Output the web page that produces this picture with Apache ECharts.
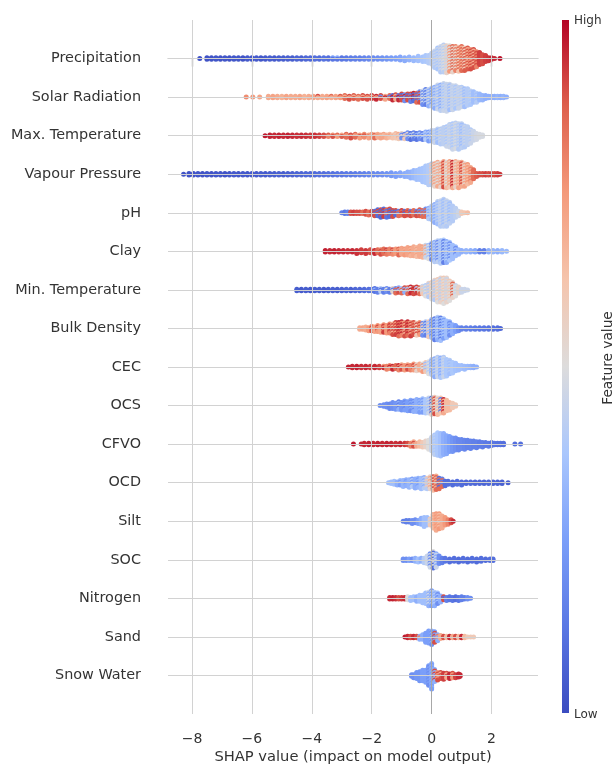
<!DOCTYPE html>
<html><head><meta charset="utf-8">
<script src="https://cdn.jsdelivr.net/npm/echarts@6/dist/echarts.min.js"></script>
<style>html,body{margin:0;padding:0;background:#fff}#c{width:616px;height:765px}</style>
</head><body><div id="c"></div>
<script>
// Feature names, top to bottom
const features = ['Precipitation','Solar Radiation','Max. Temperature','Vapour Pressure','pH','Clay','Min. Temperature','Bulk Density','CEC','OCS','CFVO','OCD','Silt','SOC','Nitrogen','Sand','Snow Water'];
const xTicks = [-8,-6,-4,-2,0,2];
const yTicks = [0,1,2,3,4,5,6,7,8,9,10,11,12,13,14,15,16];
// Each bin: [SHAP value, number of samples, feature value (0 low .. 1 high), optional second feature value mixed in]
const precipitation = [
[-7.74,1,0.02],
[-7.5,2,0.02],[-7.35,2,0.02],[-7.2,2,0.03],[-7.05,2,0.02],[-6.9,2,0.03],[-6.75,2,0.02],[-6.6,2,0.03],[-6.45,2,0.03],[-6.3,2,0.02],[-6.15,2,0.04],[-6.0,2,0.03],[-5.85,2,0.04],[-5.7,2,0.03],[-5.55,2,0.04],[-5.4,2,0.05],[-5.25,2,0.04],[-5.1,2,0.05],[-4.95,2,0.05],[-4.8,2,0.06],[-4.65,2,0.05],[-4.5,2,0.07],[-4.35,2,0.06],[-4.2,2,0.08],[-4.05,2,0.08],
[-3.9,2,0.1],[-3.75,2,0.09],[-3.6,2,0.11],[-3.45,2,0.1],[-3.3,2,0.12,0.25],[-3.15,2,0.3,0.12],[-3.0,2,0.12],[-2.85,2,0.13],[-2.7,2,0.14],[-2.55,2,0.15],[-2.4,2,0.15],[-2.25,2,0.17],[-2.1,2,0.18],[-1.95,2,0.19],[-1.8,2,0.2],[-1.65,2,0.21],[-1.5,2,0.22],[-1.35,2,0.24],[-1.2,2,0.25],[-1.05,3,0.27],[-0.9,3,0.29],[-0.75,3,0.31],[-0.6,3,0.33],[-0.45,4,0.35],[-0.3,4,0.37],
[-0.2,5,0.38],[-0.1,6,0.4],[0,8,0.42],[0.1,12,0.4,0.45],[0.2,15,0.38,0.45],[0.3,18,0.4,0.47],[0.4,19,0.42,0.5],[0.5,19,0.45,0.55],[0.6,18,0.5,0.75],[0.7,18,0.55,0.85],[0.8,17,0.8,0.55],[0.9,17,0.85,0.62],[1.0,17,0.85,0.7],[1.1,16,0.88,0.6],[1.2,15,0.88,0.7],[1.3,14,0.9,0.75],[1.4,13,0.9,0.7],[1.5,11,0.9,0.8],[1.6,9,0.92],[1.7,7,0.9],[1.8,5,0.92],[1.9,3,0.93],[2.0,2,0.95],[2.1,1,0.95],[2.28,1,0.98]
];
const solarRadiation = [
[-6.19,1,0.78],[-5.97,1,0.75],[-5.74,1,0.72],
[-5.45,2,0.7],[-5.3,2,0.72],[-5.15,2,0.7],[-5.0,2,0.68],[-4.85,2,0.72],[-4.7,2,0.7],[-4.55,2,0.7],[-4.4,2,0.72],[-4.25,2,0.68],[-4.1,2,0.7],[-3.95,2,0.72],[-3.8,2,0.9,0.7],[-3.65,2,0.7],[-3.5,2,0.72],[-3.35,2,0.7,0.85],[-3.2,2,0.72],[-3.05,2,0.75,0.88],
[-2.9,3,0.85,0.7],[-2.75,3,0.72,0.9],[-2.6,3,0.88,0.7],[-2.45,3,0.7,0.85],[-2.3,3,0.9,0.72],[-2.15,3,0.75,0.9],[-2.0,3,0.92,0.7],[-1.85,3,0.72,0.95],[-1.7,3,0.9,0.2],[-1.55,3,0.95,0.72],[-1.4,3,0.85,0.15],
[-1.3,4,0.95,0.1],[-1.2,4,0.9,0.7],[-1.1,4,0.95,0.15],[-1.0,5,0.9,0.1],[-0.9,5,0.95,0.2],[-0.8,5,0.9,0.1],[-0.7,6,0.15,0.9],[-0.6,6,0.95,0.1],[-0.5,7,0.1,0.85],[-0.4,8,0.2,0.9],
[-0.3,10,0.2,0.45],[-0.2,11,0.15,0.4],[-0.1,12,0.3,0.45],[0,13,0.4,0.25],[0.1,15,0.42,0.3],[0.2,17,0.45,0.35],[0.3,18,0.42,0.3],[0.4,19,0.45,0.38],[0.5,19,0.42,0.45],[0.6,18,0.45,0.35],[0.7,17,0.42,0.45],[0.8,16,0.45,0.38],[0.9,15,0.42,0.45],[1.0,14,0.4,0.45],[1.1,13,0.42,0.35],[1.2,12,0.4],[1.3,10,0.38,0.42],[1.4,8,0.35],[1.5,7,0.35,0.4],[1.6,5,0.33],[1.7,4,0.32],[1.8,3,0.3],[1.9,2,0.3],[2.0,2,0.3],[2.1,2,0.3],[2.2,2,0.32],[2.3,2,0.3],[2.4,2,0.32],[2.5,1,0.3]
];
const maxTemperature = [
[-5.56,1,0.97],
[-5.4,2,0.96],[-5.25,2,0.95],[-5.1,2,0.96],[-4.95,2,0.95],[-4.8,2,0.96],[-4.65,2,0.95],[-4.5,2,0.94],[-4.35,2,0.95],[-4.2,2,0.94],[-4.05,2,0.93],[-3.9,2,0.94],[-3.75,2,0.92],[-3.6,2,0.9],
[-3.45,2,0.88,0.8],[-3.3,2,0.9,0.78],[-3.15,2,0.85,0.75],[-3.0,2,0.88,0.72],[-2.85,3,0.85,0.75],[-2.7,3,0.8,0.9],[-2.55,3,0.85,0.72],[-2.4,3,0.9,0.75],[-2.25,3,0.78,0.88],[-2.1,3,0.8,0.72],
[-2.0,3,0.75,0.7],[-1.9,3,0.72,0.85],[-1.8,3,0.7,0.75],[-1.7,3,0.68,0.72],[-1.6,3,0.72,0.65],[-1.5,3,0.7,0.68],[-1.4,3,0.65,0.72],[-1.3,3,0.68,0.62],[-1.2,4,0.65,0.6],[-1.1,4,0.6,0.7],
[-1.0,4,0.55,0.2],[-0.9,4,0.6,0.15],[-0.8,5,0.2,0.55],[-0.7,5,0.35,0.1],[-0.6,5,0.15,0.45],[-0.5,5,0.3,0.12],[-0.4,5,0.2,0.4],[-0.3,5,0.35,0.15],
[-0.2,6,0.3,0.4],[-0.1,7,0.4,0.25],[0,8,0.42,0.3],[0.1,9,0.4,0.45],[0.2,10,0.42,0.35],[0.3,11,0.45,0.4],[0.4,12,0.42],[0.5,14,0.45,0.38],[0.6,16,0.42,0.45],[0.7,18,0.45,0.38],[0.8,18,0.42,0.48],[0.9,18,0.4,0.45],[1.0,17,0.42,0.35],[1.1,15,0.45,0.4],[1.2,13,0.42],[1.3,10,0.45,0.4],[1.4,7,0.45],[1.5,5,0.47],[1.6,3,0.48],[1.7,2,0.48]
];
const vapourPressure = [
[-8.28,1,0.02],
[-8.1,2,0.02],[-7.95,2,0.02],[-7.8,2,0.03],[-7.65,2,0.02],[-7.5,2,0.03],[-7.35,2,0.02],[-7.2,2,0.03],[-7.05,2,0.03],[-6.9,2,0.02],[-6.75,2,0.03],[-6.6,2,0.04],[-6.45,2,0.03],[-6.3,2,0.04],[-6.15,2,0.03],[-6.0,2,0.04],[-5.85,2,0.04],[-5.7,2,0.05],[-5.55,2,0.04],[-5.4,2,0.05],[-5.25,2,0.05],[-5.1,2,0.06],[-4.95,2,0.05],[-4.8,2,0.06],[-4.65,2,0.06],[-4.5,2,0.07],[-4.35,2,0.07],[-4.2,2,0.08],[-4.05,2,0.08],
[-3.9,2,0.09],[-3.75,2,0.1],[-3.6,2,0.1],[-3.45,2,0.11],[-3.3,2,0.11],[-3.15,2,0.12],[-3.0,2,0.12],[-2.85,2,0.13],[-2.7,2,0.13],[-2.55,2,0.14],
[-2.4,2,0.15],[-2.25,2,0.16],[-2.1,2,0.17],[-1.95,2,0.18],[-1.8,2,0.19],[-1.65,2,0.2],[-1.5,2,0.21],
[-1.35,3,0.23],[-1.2,3,0.25],[-1.05,3,0.27],[-0.9,3,0.29],
[-0.8,4,0.3],[-0.7,5,0.31],[-0.6,6,0.33],[-0.5,7,0.35],[-0.4,8,0.36],[-0.3,10,0.37],[-0.2,12,0.38],[-0.1,14,0.4],
[0,15,0.4,0.6],[0.1,16,0.55,0.72],[0.2,17,0.7,0.5],[0.3,17,0.72,0.55],[0.4,18,0.7,0.9],[0.5,18,0.65,0.5],[0.6,18,0.72,0.6],[0.7,18,0.7,0.95],[0.8,18,0.68,0.55],[0.9,18,0.72,0.62],[1.0,17,0.7,0.9],[1.1,16,0.72,0.55],[1.2,14,0.75,0.65],[1.3,11,0.8,0.7],[1.4,7,0.85],[1.5,3,0.88],
[1.6,2,0.9],[1.7,2,0.9],[1.8,2,0.92],[1.9,2,0.9],[2.0,2,0.92],[2.1,2,0.9],[2.2,2,0.92],[2.28,1,0.93]
];
const ph = [
[-3.0,1,0.15],[-2.9,2,0.12],[-2.8,2,0.15],[-2.7,2,0.9],[-2.6,2,0.92],[-2.5,2,0.9],[-2.4,2,0.9],[-2.3,2,0.85],[-2.2,3,0.9],[-2.1,3,0.85],[-2.0,3,0.9],[-1.9,4,0.9,0.1],[-1.8,5,0.1,0.9],[-1.7,6,0.08,0.9],[-1.6,6,0.1,0.92],[-1.5,6,0.12,0.85],[-1.4,6,0.9,0.1],[-1.3,5,0.1,0.9],[-1.2,4,0.9,0.1],[-1.1,4,0.85,0.15],[-1.0,4,0.92,0.85],[-0.9,4,0.9,0.1],[-0.8,4,0.85,0.9],[-0.7,4,0.9,0.15],[-0.6,4,0.85],[-0.5,4,0.9,0.15],[-0.4,5,0.88,0.2],[-0.3,5,0.2,0.85],[-0.2,6,0.2,0.85],
[-0.1,8,0.4,0.3],[0,10,0.42,0.35],[0.1,13,0.4,0.3],[0.2,16,0.42,0.35],[0.3,18,0.4,0.45],[0.4,19,0.42,0.35],[0.5,18,0.4,0.45],[0.6,15,0.42,0.35],[0.7,11,0.4],[0.8,7,0.42],[0.9,4,0.45],[1.0,2,0.6],[1.1,1,0.62],[1.2,1,0.65]
];
const clay = [
[-3.55,2,0.96],[-3.4,2,0.95],[-3.25,2,0.96],[-3.1,2,0.95],[-2.95,2,0.95],[-2.8,2,0.94],[-2.65,2,0.95],[-2.5,3,0.94],[-2.35,3,0.92],[-2.2,3,0.93],[-2.05,3,0.9],
[-1.9,3,0.88,0.95],[-1.8,3,0.85],[-1.7,4,0.9,0.8],[-1.6,4,0.85],[-1.5,4,0.82,0.92],[-1.4,4,0.8],[-1.3,4,0.78,0.9],[-1.2,4,0.75],[-1.1,5,0.75,0.85],
[-1.0,5,0.72],[-0.9,5,0.7,0.75],[-0.8,6,0.72],[-0.7,6,0.68,0.75],[-0.6,7,0.7],[-0.5,7,0.72,0.65],[-0.4,8,0.7],[-0.3,8,0.68,0.72],
[-0.2,9,0.45,0.7],[-0.1,10,0.5,0.35],[0,12,0.4,0.15],[0.1,14,0.4,0.3],[0.2,15,0.42,0.2],[0.3,16,0.4,0.35],[0.4,16,0.38,0.15],[0.5,15,0.4,0.3],[0.6,13,0.38,0.2],[0.7,10,0.35],[0.8,7,0.35,0.2],[0.9,4,0.33],
[1.0,2,0.3],[1.15,2,0.32],[1.3,2,0.3],[1.45,2,0.28],[1.6,2,0.15],[1.75,2,0.15],[1.9,2,0.3],[2.05,2,0.32],[2.2,2,0.3],[2.35,2,0.33],[2.5,1,0.33]
];
const minTemperature = [
[-4.5,2,0.05],[-4.35,2,0.04],[-4.2,2,0.05],[-4.05,2,0.04],[-3.9,2,0.05],[-3.75,2,0.05],[-3.6,2,0.04],[-3.45,2,0.05],[-3.3,2,0.06],[-3.15,2,0.05],[-3.0,2,0.06],[-2.85,2,0.07],[-2.7,2,0.06],[-2.55,2,0.08],[-2.4,2,0.08],[-2.25,2,0.09],[-2.1,2,0.1],
[-2.0,2,0.12],[-1.9,3,0.12,0.3],[-1.8,3,0.15],[-1.7,3,0.4,0.12],[-1.6,3,0.15],[-1.5,3,0.2,0.5],[-1.4,3,0.15],[-1.3,3,0.55,0.15],
[-1.2,4,0.85,0.2],[-1.1,4,0.3,0.9],[-1.0,4,0.85,0.4],[-0.9,4,0.9,0.3],[-0.8,5,0.35,0.85],[-0.7,5,0.95,0.5],[-0.6,5,0.95,0.9],[-0.5,5,0.92,0.4],[-0.4,5,0.5,0.85],[-0.3,6,0.45,0.6],
[-0.2,8,0.5,0.4],[-0.1,10,0.55,0.4],[0,12,0.5,0.6],[0.1,14,0.55,0.4],[0.2,16,0.5,0.6],[0.3,17,0.55,0.42],[0.4,18,0.5,0.6],[0.5,17,0.55,0.45],[0.6,14,0.5,0.6],[0.7,11,0.55,0.85],[0.8,8,0.5,0.45],[0.9,5,0.55],[1.0,3,0.45],[1.1,2,0.45],[1.2,1,0.45]
];
const bulkDensity = [
[-2.4,2,0.7],[-2.3,2,0.72],[-2.2,3,0.7],[-2.1,3,0.75],[-2.0,4,0.75,0.9],[-1.9,4,0.72],[-1.8,5,0.75,0.9],[-1.7,5,0.72],[-1.6,6,0.78,0.92],[-1.5,6,0.75],[-1.4,7,0.8,0.92],[-1.3,8,0.9,0.7],[-1.2,9,0.92,0.75],[-1.1,10,0.85,0.95],[-1.0,10,0.95,0.8],[-0.9,10,0.9,0.7],[-0.8,10,0.95,0.85],[-0.7,10,0.92,0.72],[-0.6,9,0.9,0.8],[-0.5,9,0.9,0.6],[-0.4,9,0.75,0.9],[-0.3,9,0.6,0.2],[-0.2,10,0.4,0.15],
[-0.1,11,0.35,0.6],[0,13,0.35,0.2],[0.1,15,0.35,0.15],[0.2,16,0.4,0.3],[0.3,16,0.35,0.15],[0.4,14,0.38,0.25],[0.5,12,0.35],[0.6,10,0.32,0.2],[0.7,7,0.3],[0.8,5,0.25],[0.9,3,0.2],
[1.0,2,0.15],[1.15,2,0.15],[1.3,2,0.14],[1.45,2,0.13],[1.6,2,0.12],[1.75,2,0.12],[1.9,2,0.11],[2.05,2,0.1],[2.2,2,0.1],[2.3,1,0.08]
];
const cec = [
[-2.78,1,0.96],[-2.65,2,0.95],[-2.5,2,0.96],[-2.35,2,0.94],[-2.2,2,0.95],[-2.05,2,0.93],[-1.9,2,0.95],[-1.75,2,0.92],[-1.6,2,0.75,0.95],[-1.5,3,0.8],[-1.4,3,0.78,0.95],[-1.3,3,0.8,0.95],[-1.2,3,0.85],[-1.1,4,0.8,0.95],[-1.0,4,0.7,0.9],[-0.9,4,0.75],[-0.8,4,0.72,0.9],[-0.7,4,0.8],[-0.6,5,0.75,0.9],[-0.5,5,0.8,0.55],[-0.4,5,0.7],[-0.3,6,0.75,0.5],[-0.2,7,0.6,0.35],
[-0.1,9,0.4,0.5],[0,11,0.4,0.3],[0.1,13,0.42,0.3],[0.2,14,0.4,0.45],[0.3,14,0.38,0.3],[0.4,14,0.4,0.45],[0.5,12,0.38],[0.6,10,0.4,0.35],[0.7,8,0.38],[0.8,6,0.36],[0.9,4,0.35],[1.0,3,0.35],[1.1,3,0.34],[1.2,2,0.33],[1.3,2,0.32],[1.4,2,0.3],[1.5,1,0.3]
];
const ocs = [
[-1.72,1,0.2],[-1.6,2,0.2],[-1.5,3,0.2],[-1.4,4,0.18],[-1.3,5,0.2],[-1.2,5,0.22],[-1.1,6,0.15,0.3],[-1.0,6,0.22],[-0.9,7,0.25,0.18],[-0.8,7,0.25],[-0.7,8,0.28,0.2],[-0.6,8,0.3,0.2],[-0.5,9,0.3],[-0.4,9,0.32,0.25],[-0.3,10,0.35,0.25],[-0.2,10,0.38],[-0.1,11,0.45,0.35],[0,12,0.55,0.1],[0.1,12,0.6,0.9],[0.2,12,0.65,0.5],[0.3,11,0.62,0.15],[0.4,10,0.7,0.95],[0.5,8,0.65],[0.6,6,0.65],[0.7,4,0.6],[0.8,2,0.6]
];
const cfvo = [
[-2.61,1,0.97],[-2.35,1,0.95],[-2.25,2,0.95],[-2.1,2,0.96],[-1.95,2,0.95],[-1.8,2,0.96],[-1.65,2,0.95],[-1.5,2,0.96],[-1.35,2,0.95],[-1.2,2,0.94],[-1.05,2,0.95],[-0.9,2,0.93],[-0.8,2,0.9],[-0.7,3,0.8],[-0.6,4,0.7,0.9],[-0.5,3,0.7],[-0.4,4,0.65],[-0.3,4,0.6],[-0.2,5,0.55],[-0.1,7,0.5],[0,10,0.45],[0.1,14,0.42,0.38],[0.2,16,0.38],[0.3,16,0.35],[0.4,15,0.3],[0.5,13,0.28],[0.6,11,0.25],[0.7,10,0.22],[0.8,9,0.2],[0.9,8,0.18],[1.0,7,0.18],[1.1,7,0.17],[1.2,6,0.16],[1.3,6,0.16],[1.4,5,0.15],[1.5,5,0.15],[1.6,4,0.14],[1.7,4,0.14],[1.8,3,0.13],[1.9,3,0.13],[2.0,3,0.12],[2.1,2,0.12],[2.2,2,0.11],[2.3,2,0.11],[2.4,2,0.1],[2.78,1,0.1],[2.97,1,0.1]
];
const ocd = [
[-1.44,1,0.35],[-1.35,2,0.35],[-1.25,3,0.35],[-1.15,3,0.3],[-1.05,4,0.35,0.25],[-0.95,5,0.32],[-0.85,5,0.3,0.25],[-0.75,6,0.32],[-0.65,6,0.25,0.4],[-0.55,7,0.3],[-0.45,7,0.32,0.25],[-0.35,8,0.35],[-0.25,8,0.3,0.4],[-0.15,8,0.4,0.6],[-0.05,9,0.55,0.7],[0.05,10,0.65,0.9],[0.15,10,0.7,0.85],[0.25,8,0.85,0.1],[0.35,6,0.15,0.85],[0.45,4,0.1],
[0.55,3,0.1],[0.7,3,0.09],[0.85,3,0.1],[1.0,3,0.09],[1.15,2,0.08],[1.3,2,0.09],[1.45,2,0.08],[1.6,2,0.08],[1.75,2,0.07],[1.9,2,0.08],[2.05,2,0.07],[2.2,2,0.07],[2.35,2,0.06],[2.55,1,0.06]
];
const silt = [
[-0.95,1,0.15],[-0.85,2,0.15],[-0.75,2,0.15],[-0.65,3,0.2],[-0.55,3,0.2],[-0.45,3,0.25],[-0.35,5,0.3],[-0.25,7,0.35],[-0.15,6,0.35],[-0.05,5,0.45,0.6],[0.05,10,0.7,0.65],[0.15,12,0.7,0.75],[0.25,11,0.75,0.65],[0.35,9,0.7],[0.45,6,0.75],[0.55,4,0.8],[0.65,3,0.9],[0.72,1,0.95]
];
const soc = [
[-0.95,2,0.2],[-0.85,2,0.2],[-0.75,2,0.25],[-0.65,2,0.2],[-0.55,3,0.3],[-0.45,3,0.35],[-0.35,3,0.3],[-0.25,4,0.4],[-0.15,6,0.45],[-0.05,10,0.45,0.2],[0.05,12,0.5,0.1],[0.15,10,0.45,0.3],[0.25,6,0.2],[0.35,4,0.15],
[0.45,3,0.12],[0.6,3,0.1],[0.75,3,0.1],[0.9,3,0.09],[1.05,3,0.1],[1.2,3,0.09],[1.35,3,0.1],[1.5,3,0.09],[1.65,3,0.1],[1.8,2,0.09],[1.95,2,0.1],[2.05,2,0.1]
];
const nitrogen = [
[-1.4,2,0.95],[-1.3,2,0.96],[-1.2,2,0.94],[-1.1,2,0.9],[-1.0,2,0.93],[-0.9,2,0.95],[-0.8,3,0.5],[-0.7,3,0.35],[-0.6,3,0.35],[-0.5,4,0.3],[-0.4,5,0.35],[-0.3,6,0.35],[-0.2,8,0.35],[-0.1,10,0.3,0.45],[0,11,0.25,0.4],[0.1,10,0.3,0.4],[0.2,8,0.35,0.2],[0.3,5,0.3],[0.4,3,0.9,0.1],[0.5,3,0.15],[0.6,3,0.12],[0.7,3,0.12],[0.8,3,0.1],[0.9,3,0.12],[1.0,3,0.15],[1.1,2,0.15],[1.2,2,0.2],[1.3,1,0.2]
];
const sand = [
[-0.89,1,0.97],[-0.8,2,0.95],[-0.7,2,0.9],[-0.6,2,0.95],[-0.5,2,0.9],[-0.4,3,0.8,0.3],[-0.3,4,0.3],[-0.2,7,0.25],[-0.1,9,0.25],[0,10,0.2,0.3],[0.1,8,0.25,0.9],[0.2,5,0.8,0.3],[0.3,3,0.7],[0.4,2,0.9],[0.5,2,0.65],[0.6,2,0.95],[0.7,2,0.7],[0.8,2,0.9],[0.9,2,0.65],[1.0,2,0.95],[1.1,2,0.65],[1.2,1,0.6],[1.3,1,0.6],[1.4,1,0.6]
];
const snowWater = [
[-0.67,2,0.2],[-0.6,3,0.2],[-0.5,5,0.22],[-0.4,7,0.22],[-0.3,8,0.25],[-0.2,9,0.25],[-0.1,14,0.25,0.2],[0,18,0.25,0.3],[0.1,9,0.3,0.9],[0.2,6,0.9,0.75],[0.3,5,0.9,0.7],[0.4,5,0.92],[0.5,4,0.9,0.7],[0.6,4,0.95],[0.7,4,0.9,0.75],[0.8,3,0.92],[0.9,3,0.95],[0.95,2,0.95]
];
const swarms = [precipitation, solarRadiation, maxTemperature, vapourPressure, ph, clay, minTemperature, bulkDensity, cec, ocs, cfvo, ocd, silt, soc, nitrogen, sand, snowWater];

// coolwarm colormap
const cmap = ['#3b4cc0','#5a78e4','#7b9ff9','#aac7fd','#dddcdc','#f5c4ac','#f49a7b','#de604d','#b40426'];

// layout of the swarm: stack the samples of each bin vertically around its row
const GRID = {left:168, right:78, top:20, bottom:51};
const H = 765;
const rowPx = (H - GRID.top - GRID.bottom) / 18;
const gapPx = 1.5;
const points = [];
swarms.forEach((bins, row) => {
  bins.forEach((b, bi) => {
    const x = b[0], n = b[1], c1 = b[2], c2 = b[3];
    const shift = (bi % 2 === 1 && n > 2) ? 0.5 : 0;
    for (let k = 0; k < n; k++) {
      const off = (k - (n - 1) / 2 + shift) * gapPx / rowPx;
      const c = (c2 !== undefined && (k + bi) % 2 === 1) ? c2 : c1;
      points.push([x, row + off, c]);
    }
  });
});

const chart = echarts.init(document.getElementById('c'), null, {renderer:'canvas'});
const fmt = v => (v < 0 ? '\u2212' + (-v) : '' + v);
const gridColor = '#d2d2d2';
chart.setOption({
  animation: false,
  backgroundColor: '#fff',
  grid: GRID,
  xAxis: {
    type: 'value', min: -8.8, max: 3.55,
    axisLine: {show: true, lineStyle: {color: '#bdbdbd', width: 1}},
    axisTick: {show: true, customValues: xTicks, length: 8, lineStyle: {color: '#555', width: 1.2}},
    axisLabel: {customValues: xTicks, formatter: fmt, fontSize: 14, color: '#333', margin: 18, fontFamily: 'DejaVu Sans'},
    splitLine: {show: false}
  },
  yAxis: {
    type: 'value', min: -1, max: 17, interval: 1, inverse: true,
    axisLine: {show: false},
    axisTick: {show: true, customValues: yTicks, length: 4, lineStyle: {color: '#ccc'}},
    axisLabel: {customValues: yTicks, formatter: v => features[v] || '', fontSize: 14.4, color: '#333', margin: 27, fontFamily: 'DejaVu Sans'},
    splitLine: {show: false}
  },
  visualMap: {show: false, type: 'continuous', dimension: 2, min: 0, max: 1, seriesIndex: 0, inRange: {color: cmap}},
  series: [{
    type: 'scatter', data: points, symbolSize: 5, silent: true, z: 3,
    progressive: 0, large: false,
    itemStyle: {opacity: 1},
    markLine: {
      silent: true, symbol: 'none', z: 1, animation: false,
      label: {show: false},
      lineStyle: {color: gridColor, type: 'solid', width: 1},
      data: xTicks.map(v => ({xAxis: v, lineStyle: {color: v === 0 ? '#a8a8a8' : gridColor, type: 'solid', width: 1}}))
        .concat(yTicks.map(v => ({yAxis: v})))
    }
  }],
  graphic: [
    {type: 'rect', left: 562, top: 20, shape: {width: 7, height: 693}, z: 10,
     style: {fill: new echarts.graphic.LinearGradient(0, 0, 0, 1, cmap.slice().reverse().map((c, i, a) => ({offset: i / (a.length - 1), color: c})))}},
    {type: 'text', x: 574, y: 21, z: 10, style: {text: 'High', fontSize: 12, fill: '#333', verticalAlign: 'middle', fontFamily: 'DejaVu Sans'}},
    {type: 'text', x: 574, y: 715, z: 10, style: {text: 'Low', fontSize: 12, fill: '#333', verticalAlign: 'middle', fontFamily: 'DejaVu Sans'}},
    {type: 'text', x: 608, y: 358, rotation: Math.PI / 2, z: 10, style: {text: 'Feature value', fontSize: 13.7, fill: '#333', align: 'center', verticalAlign: 'middle', fontFamily: 'DejaVu Sans'}},
    {type: 'text', x: 353, y: 757, z: 10, style: {text: 'SHAP value (impact on model output)', fontSize: 14.7, fill: '#333', align: 'center', verticalAlign: 'middle', fontFamily: 'DejaVu Sans'}}
  ]
});
</script>
</body></html>
